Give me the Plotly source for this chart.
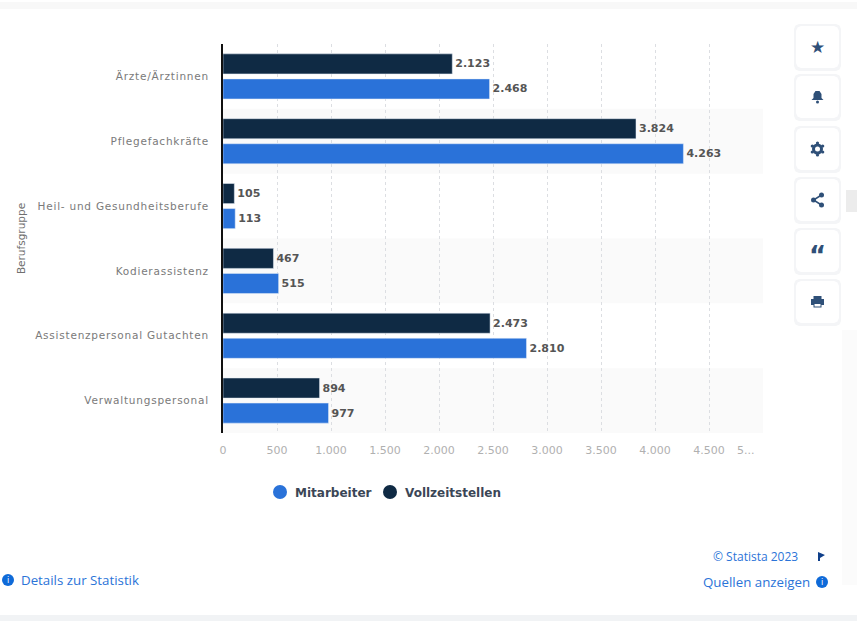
import plotly.graph_objects as go

categories = ["Ärzte/Ärztinnen", "Pflegefachkräfte", "Heil- und Gesundheitsberufe",
              "Kodierassistenz", "Assistenzpersonal Gutachten", "Verwaltungspersonal"]
vollzeit = [2123, 3824, 105, 467, 2473, 894]
mitarbeiter = [2468, 4263, 113, 515, 2810, 977]
tick_values = [0, 500, 1000, 1500, 2000, 2500, 3000, 3500, 4000, 4500, 5000]
tick_labels = ["0", "500", "1.000", "1.500", "2.000", "2.500", "3.000", "3.500", "4.000", "4.500", ""]

W, H = 857, 621
L, R, T, B = 223, 763, 44, 433
BLUE, NAVY = "#2a72d9", "#0f2a44"
ICON = "#2f5078"
LINK = "#2b74d8"


def fmt(v):
    return f"{v:,}".replace(",", ".")


def px(x):
    return (x - L) / (R - L)


def py(y):
    return (B - y) / (B - T)


def rect(x0, y0, x1, y1, **kw):
    return dict(type="rect", xref="paper", yref="paper", x0=px(x0), x1=px(x1), y0=py(y0), y1=py(y1),
                line=dict(width=0), **kw)


def circle(cx, cy, r, **kw):
    return dict(type="circle", xref="paper", yref="paper", x0=px(cx - r), x1=px(cx + r),
                y0=py(cy - r), y1=py(cy + r), line=dict(width=0), **kw)


def poly(points, **kw):
    d = "M " + " L ".join(f"{px(x):.5f},{py(y):.5f}" for x, y in points) + " Z"
    return dict(type="path", xref="paper", yref="paper", path=d, line=dict(width=0), **kw)


def rrect(x0, y0, x1, y1, r, **kw):
    pts = [(x0 + r, y0), (x1 - r, y0), (x1 - .3 * r, y0 + .3 * r), (x1, y0 + r), (x1, y1 - r),
           (x1 - .3 * r, y1 - .3 * r), (x1 - r, y1), (x0 + r, y1), (x0 + .3 * r, y1 - .3 * r),
           (x0, y1 - r), (x0, y0 + r), (x0 + .3 * r, y0 + .3 * r)]
    return poly(pts, **kw)


def text(x, y, s, size, color, xanchor="center", font="Open Sans"):
    return dict(xref="paper", yref="paper", x=px(x), y=py(y), text=s, showarrow=False, xanchor=xanchor,
                yanchor="middle", font=dict(family=font, size=size, color=color))


fig = go.Figure()
fig.add_bar(y=categories, x=vollzeit, name="Vollzeitstellen", orientation="h", marker_color=NAVY,
            text=[fmt(v) for v in vollzeit], textposition="outside", showlegend=False, cliponaxis=False)
fig.add_bar(y=categories, x=mitarbeiter, name="Mitarbeiter", orientation="h", marker_color=BLUE,
            text=[fmt(v) for v in mitarbeiter], textposition="outside", showlegend=False, cliponaxis=False)

shapes = []
for i in (1, 3, 5):
    shapes.append(dict(type="rect", xref="x domain", yref="y", x0=0, x1=1, y0=i - .5, y1=i + .5,
                       fillcolor="#fafafa", line=dict(width=0), layer="below"))

# page frame
shapes += [rect(0, 615, W, H, fillcolor="#f1f3f5", layer="below"),
           rect(0, 2, W, 9, fillcolor="#f8f8f8", layer="below"),
           rect(842, 330, W, 585, fillcolor="#fbfbfb", layer="below"),
           rect(846, 190, W, 212, fillcolor="#ececec", layer="below")]

# sidebar buttons
centres = [47, 97, 149, 200, 251, 302]
annotations = []
for cy in centres:
    shapes.append(rrect(794, cy - 23, 841, cy + 24, 5, fillcolor="#f4f5f7", layer="below"))
    shapes.append(rrect(796, cy - 21, 839, cy + 21, 5, fillcolor="#ffffff", layer="below"))

cx = 817.5
annotations.append(text(cx, centres[0], "★", 17, ICON, font="DejaVu Sans"))
# bell
cy = centres[1]
shapes.append(poly([(cx - 6, cy + 3), (cx - 4, cy + 1), (cx - 4, cy - 3), (cx - 2, cy - 6), (cx + 2, cy - 6),
                    (cx + 4, cy - 3), (cx + 4, cy + 1), (cx + 6, cy + 3)], fillcolor=ICON))
shapes.append(circle(cx, cy + 5, 1.5, fillcolor=ICON))
# gear
cy = centres[2]
shapes.append(circle(cx, cy, 5.5, fillcolor=ICON))
for dx, dy in [(0, -6), (0, 6), (-5.2, -3), (5.2, -3), (-5.2, 3), (5.2, 3)]:
    shapes.append(circle(cx + dx, cy + dy, 1.6, fillcolor=ICON))
shapes.append(circle(cx, cy, 2.5, fillcolor="#ffffff"))
# share
cy = centres[3]
for dx, dy in [(-4, 0), (4, -5), (4, 5)]:
    shapes.append(circle(cx + dx, cy + dy, 2.5, fillcolor=ICON))
shapes.append(dict(type="path", xref="paper", yref="paper",
                   path=f"M {px(cx+4):.5f},{py(cy-5):.5f} L {px(cx-4):.5f},{py(cy):.5f} L {px(cx+4):.5f},{py(cy+5):.5f}",
                   line=dict(color=ICON, width=1.5)))
# quote
annotations.append(text(cx, centres[4] + 5, "<b>“</b>", 26, ICON, font="DejaVu Sans"))
# print
cy = centres[5]
shapes.append(rect(cx - 6.5, cy - 3, cx + 6.5, cy + 3, fillcolor=ICON))
shapes.append(rect(cx - 4, cy - 6, cx + 4, cy - 3, fillcolor=ICON))
shapes.append(rect(cx - 4, cy + 1, cx + 4, cy + 5.5, fillcolor=ICON))
shapes.append(rect(cx - 3, cy + 2, cx + 3, cy + 4.5, fillcolor="#ffffff"))

# footer
annotations += [
    text(19, 580, "Details zur Statistik", 13.3, LINK, "left"),
    text(800, 556, "© Statista 2023", 12, LINK, "right"),
    text(812, 582, "Quellen anzeigen", 13.3, LINK, "right"),
    text(8, 580, "i", 8, "#ffffff", font="DejaVu Sans"),
    text(822, 582, "i", 8, "#ffffff", font="DejaVu Sans"),
    text(746, 450, "5...", 11, "#b0b0b0", font="DejaVu Sans"),
]
shapes += [circle(8, 580, 6, fillcolor="#0f6ad8"), circle(822, 582, 6, fillcolor="#0f6ad8"),
           poly([(818, 552), (825, 555), (820, 558), (820, 561), (818, 561)], fillcolor="#0f3f8a")]

# legend
shapes += [circle(280, 492, 7, fillcolor=BLUE), circle(390, 492, 7, fillcolor=NAVY)]
annotations += [text(293, 492.5, "<b>Mitarbeiter</b>", 12, "#3b4656", "left", "DejaVu Sans"),
                text(403, 492.5, "<b>Vollzeitstellen</b>", 12, "#3b4656", "left", "DejaVu Sans")]

fig.update_layout(
    width=W, height=H, autosize=False,
    margin=dict(l=L, r=W - R, t=T, b=H - B, pad=0),
    paper_bgcolor="#ffffff", plot_bgcolor="#ffffff",
    barmode="group", bargap=0.227, bargroupgap=0.2,
    showlegend=False,
    font=dict(family="DejaVu Sans", size=10, color="#6a6a6a"),
    shapes=shapes, annotations=annotations,
)
fig.update_traces(textfont=dict(family="DejaVu Sans", size=11, color="#555555", weight=700), textangle=0)
fig.update_xaxes(range=[0, 5000], tickvals=tick_values, ticktext=tick_labels, showgrid=True, griddash="dot",
                 gridcolor="#dcdee2", gridwidth=1, zeroline=False, showline=False,
                 tickfont=dict(family="DejaVu Sans", size=11, color="#b0b0b0"), ticks="", ticklabelstandoff=9)
fig.update_yaxes(categoryorder="array", categoryarray=categories, autorange="reversed", showgrid=False,
                 zeroline=False, showline=True, linecolor="#111111", linewidth=2, ticks="",
                 tickfont=dict(family="DejaVu Sans", size=10.5, color="#7a7a7a"), ticklabelstandoff=10,
                 title=dict(text="Berufsgruppe", font=dict(family="DejaVu Sans", size=10.5, color="#6f6f6f"), standoff=28))

fig.write_html(
    "out.html",
    config={"displayModeBar": False},
    post_script="document.body.style.margin='0';"
                "document.querySelectorAll('.ytick text').forEach(function(t){t.style.letterSpacing='0.77px';});",
)
